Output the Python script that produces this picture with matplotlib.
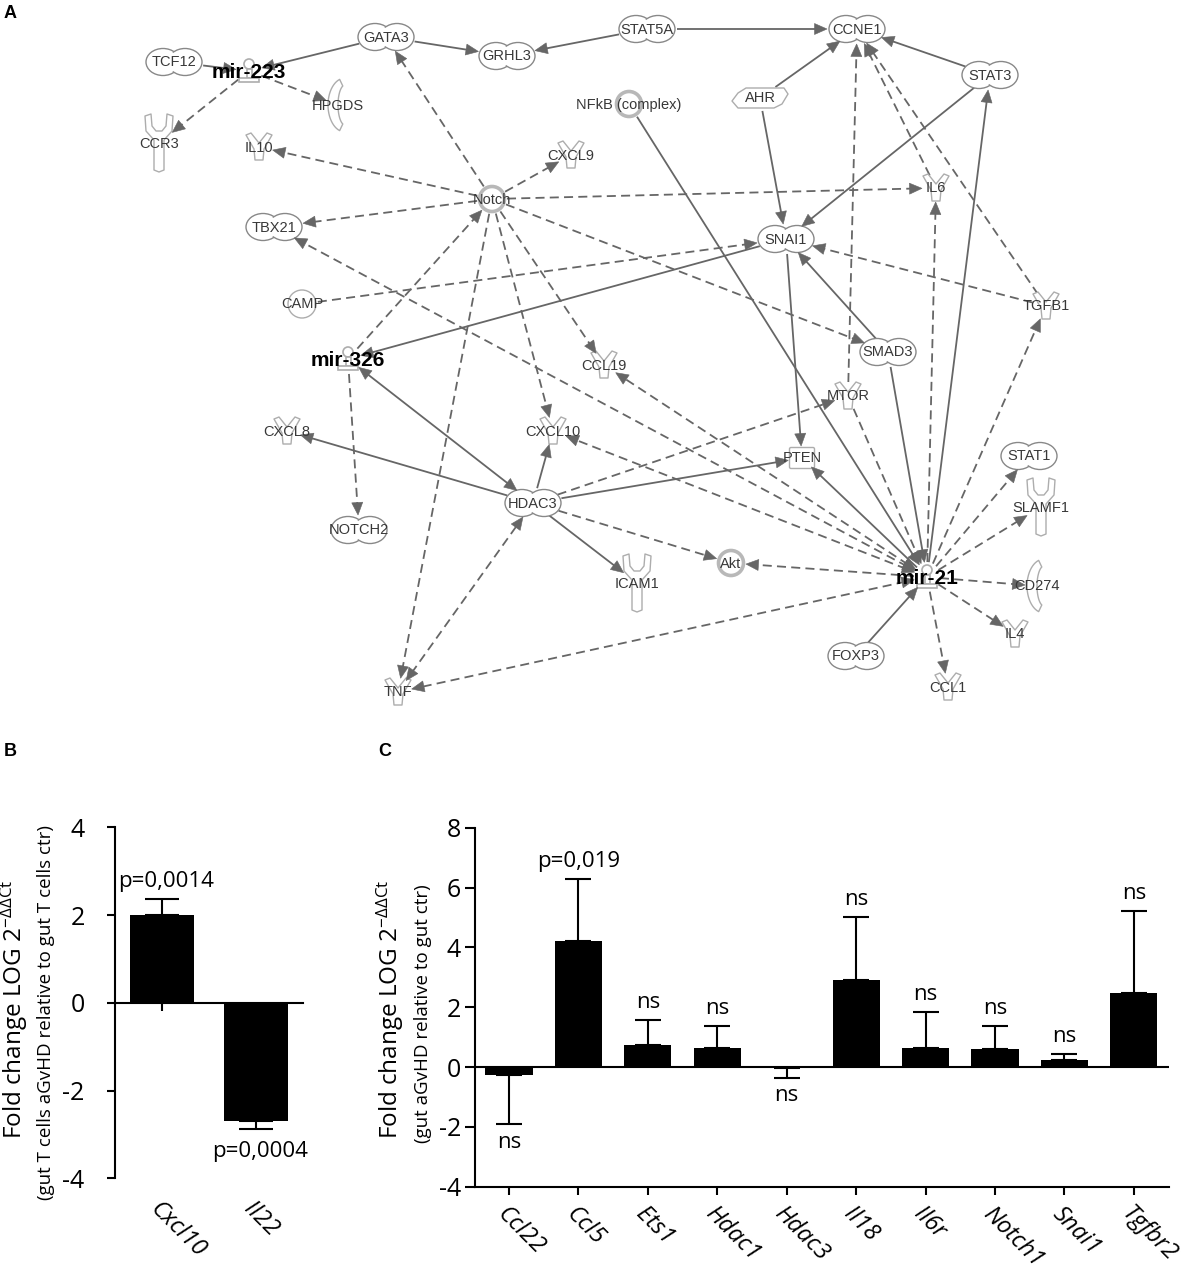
import numpy as np
import matplotlib
matplotlib.use('Agg')
import matplotlib.pyplot as plt
from matplotlib import font_manager as fm
from matplotlib.patches import Ellipse, Circle, Polygon, FancyBboxPatch, Rectangle

W, H = 1192, 1272

# ---------------- Panel B data ----------------
b_genes = ['Cxcl10', 'Il22']
b_values = [2.00, -2.70]
b_errors = [0.37, 0.17]
b_labels = ['p=0,0014', 'p=0,0004']
b_yticks = [-4, -2, 0, 2, 4]

# ---------------- Panel C data ----------------
c_genes = ['Ccl22', 'Ccl5', 'Ets1', 'Hdac1', 'Hdac3', 'Il18', 'Il6r', 'Notch1', 'Snai1', 'Tgfbr2']
c_values = [-0.28, 4.21, 0.73, 0.65, -0.03, 2.92, 0.64, 0.61, 0.22, 2.49]
c_errors = [1.64, 2.09, 0.83, 0.71, 0.33, 2.10, 1.20, 0.76, 0.23, 2.73]
c_labels = ['ns', 'p=0,019', 'ns', 'ns', 'ns', 'ns', 'ns', 'ns', 'ns', 'ns']
c_yticks = [-4, -2, 0, 2, 4, 6, 8]

# ---------------- Panel A network ----------------
node_types = {
    'TCF12': 'tr', 'mir-223': 'mir', 'GATA3': 'tr', 'GRHL3': 'tr', 'STAT5A': 'tr',
    'CCNE1': 'tr', 'STAT3': 'tr', 'AHR': 'lnr', 'NFkB': 'cplx', 'HPGDS': 'enz',
    'CCR3': 'rec', 'IL10': 'cyt', 'CXCL9': 'cyt', 'Notch': 'cplx', 'IL6': 'cyt',
    'TBX21': 'tr', 'SNAI1': 'tr', 'CAMP': 'other', 'TGFB1': 'cyt', 'mir-326': 'mir',
    'CCL19': 'cyt', 'SMAD3': 'tr', 'MTOR': 'cyt', 'CXCL8': 'cyt', 'CXCL10': 'cyt',
    'PTEN': 'phos', 'STAT1': 'tr', 'HDAC3': 'tr', 'NOTCH2': 'tr', 'SLAMF1': 'rec',
    'Akt': 'cplx', 'ICAM1': 'rec', 'mir-21': 'mir', 'CD274': 'enz', 'IL4': 'cyt',
    'FOXP3': 'tr', 'CCL1': 'cyt', 'TNF': 'cyt',
}
node_labels = {'NFkB': 'NFkB (complex)'}

edges_solid = [
    ('TCF12', 'mir-223'), ('GATA3', 'mir-223'), ('GATA3', 'GRHL3'), ('STAT5A', 'GRHL3'),
    ('STAT5A', 'CCNE1'), ('AHR', 'CCNE1'), ('STAT3', 'CCNE1'), ('AHR', 'SNAI1'),
    ('STAT3', 'SNAI1'), ('SMAD3', 'SNAI1'), ('SNAI1', 'mir-326'), ('SNAI1', 'PTEN'),
    ('NFkB', 'mir-21'), ('SMAD3', 'mir-21'), ('mir-21', 'STAT3'), ('mir-21', 'PTEN'),
    ('FOXP3', 'mir-21'), ('HDAC3', 'CXCL8'), ('mir-326', 'HDAC3'), ('HDAC3', 'CXCL10'),
    ('HDAC3', 'ICAM1'), ('HDAC3', 'PTEN'),
]
edges_dashed = [
    ('mir-223', 'HPGDS'), ('mir-223', 'CCR3'), ('Notch', 'GATA3'), ('Notch', 'IL10'),
    ('Notch', 'CXCL9'), ('Notch', 'TBX21'), ('Notch', 'IL6'), ('mir-326', 'Notch'),
    ('Notch', 'CCL19'), ('Notch', 'SMAD3'), ('Notch', 'CXCL10'), ('Notch', 'TNF'),
    ('CAMP', 'SNAI1'), ('TGFB1', 'SNAI1'), ('TGFB1', 'CCNE1'), ('IL6', 'CCNE1'),
    ('MTOR', 'CCNE1'), ('mir-21', 'IL6'), ('mir-21', 'TGFB1'), ('MTOR', 'mir-21'),
    ('mir-21', 'TBX21'), ('mir-21', 'CCL19'), ('mir-21', 'CXCL10'), ('mir-21', 'STAT1'),
    ('mir-21', 'SLAMF1'), ('mir-21', 'CD274'), ('mir-21', 'IL4'), ('mir-21', 'CCL1'),
    ('mir-21', 'Akt'), ('mir-21', 'TNF'), ('mir-326', 'NOTCH2'), ('HDAC3', 'MTOR'),
    ('HDAC3', 'Akt'), ('TNF', 'HDAC3'),
]
edges_both = [('mir-326', 'HDAC3'), ('mir-21', 'TBX21'), ('mir-21', 'CCL19'),
              ('mir-21', 'CXCL10'), ('mir-21', 'TNF'), ('TNF', 'HDAC3')]

# layout of the network diagram (pixel positions in the figure)
layout = {
    'TCF12': (174, 62), 'mir-223': (249, 71), 'GATA3': (386, 37), 'GRHL3': (507, 56),
    'STAT5A': (647, 29), 'CCNE1': (857, 29), 'STAT3': (990, 75), 'AHR': (760, 98),
    'NFkB': (629, 104), 'HPGDS': (338, 105), 'CCR3': (159, 143), 'IL10': (259, 147),
    'CXCL9': (571, 155), 'Notch': (492, 199), 'IL6': (936, 188), 'TBX21': (274, 227),
    'SNAI1': (786, 239), 'CAMP': (302, 304), 'TGFB1': (1046, 306), 'mir-326': (348, 359),
    'CCL19': (604, 365), 'SMAD3': (888, 352), 'MTOR': (848, 396), 'CXCL8': (287, 431),
    'CXCL10': (553, 431), 'PTEN': (802, 458), 'STAT1': (1029, 456), 'HDAC3': (533, 503),
    'NOTCH2': (359, 530), 'SLAMF1': (1041, 507), 'Akt': (731, 563), 'ICAM1': (637, 583),
    'mir-21': (927, 577), 'CD274': (1037, 586), 'IL4': (1015, 634), 'FOXP3': (856, 656),
    'CCL1': (948, 687), 'TNF': (398, 692),
}
clip_size = {'tr': (29, 14), 'cyt': (13, 13), 'rec': (14, 22), 'cplx': (14, 14),
             'mir': (12, 14), 'lnr': (29, 12), 'phos': (13, 11), 'other': (15, 14),
             'enz': (11, 24)}

# ---------------- fonts ----------------
ttf = fm.fontManager.ttflist
names = {f.name for f in ttf}


def pick(cands):
    for c in cands:
        if c in names:
            return c
    return 'DejaVu Sans'


def has_italic(name):
    return any(f.name == name and f.style in ('italic', 'oblique') for f in ttf)


bar_font = pick(['Open Sans', 'Noto Sans', 'Lato', 'DejaVu Sans'])
ital_font = bar_font
if not has_italic(bar_font):
    for c in ['Noto Sans', 'Lato', 'Roboto', 'DejaVu Sans']:
        if c in names and has_italic(c):
            ital_font = c
            break
narrow = 'Liberation Sans Narrow' in names
net_font = 'Liberation Sans Narrow' if narrow else pick(['Liberation Sans', 'DejaVu Sans'])
net_fs = 12 if narrow else 10.5
bold_font = pick(['Liberation Sans', 'DejaVu Sans'])

plt.rcParams['font.family'] = [bar_font, 'DejaVu Sans']
plt.rcParams['mathtext.default'] = 'regular'

fig = plt.figure(figsize=(W / 100, H / 100), dpi=100)

# ================= Panel A : network =================
axN = fig.add_axes([0, 0, 1, 1])
axN.set_xlim(0, W)
axN.set_ylim(H, 0)
axN.axis('off')

EDGE = '#666666'
OUT = '#888888'
LIGHT = '#adadad'


def ell_r(sz, u):
    rx, ry = sz
    return 1.0 / np.sqrt((u[0] / rx) ** 2 + (u[1] / ry) ** 2)


def arrow_head(tip, u, hl=12.5, hw=5.5):
    n = np.array([-u[1], u[0]])
    base = tip - u * hl
    axN.add_patch(Polygon([tip, base + n * hw, base - n * hw], closed=True,
                          fc=EDGE, ec=EDGE, lw=0.4, zorder=3.6))


def draw_edge(a, b, dashed, both):
    p0 = np.array(layout[a], float)
    p1 = np.array(layout[b], float)
    d = p1 - p0
    u = d / np.hypot(*d)
    s = p0 + u * (ell_r(clip_size[node_types[a]], u) + 1)
    e = p1 - u * (ell_r(clip_size[node_types[b]], u) + 1)
    s_line = s + u * 9 if both else s
    e_line = e - u * 9
    ls = (0, (5.0, 2.9)) if dashed else '-'
    axN.plot([s_line[0], e_line[0]], [s_line[1], e_line[1]], color=EDGE, lw=1.3,
             ls=ls, zorder=2, solid_capstyle='butt', dash_capstyle='butt')
    arrow_head(e, u)
    if both:
        arrow_head(s, -u)


both_set = set(edges_both)
for (a, b) in edges_solid:
    draw_edge(a, b, False, (a, b) in both_set)
for (a, b) in edges_dashed:
    draw_edge(a, b, True, (a, b) in both_set)


def shape_tr(x, y):
    for dx in (-11, 11):
        axN.add_patch(Ellipse((x + dx, y), 34, 27, fc='white', ec=OUT, lw=1.0, zorder=3))
    for dx in (-11, 11):
        axN.add_patch(Ellipse((x + dx, y), 31.4, 24.4, fc='white', ec='none', zorder=3.1))


def shape_poly(x, y, pts, ec=LIGHT):
    pts = np.array(pts, float) + [x, y]
    axN.add_patch(Polygon(pts, closed=True, fc='white', ec=ec, lw=1.0,
                          joinstyle='round', zorder=3))


CYT = [(-13, -12), (-8, -14), (0, -4), (8, -14), (13, -12), (5, 2), (4, 13), (-4, 13), (-5, 2)]
REC = [(-14, -27), (-8, -29), (-7, -17), (-3, -12), (3, -12), (7, -17), (8, -29), (14, -27),
       (13, -12), (5, -3), (5, 27), (0, 29), (-5, 27), (-5, -3), (-13, -12)]
LNR = [(-28, 3), (-22, -5), (-14, -10), (24, -10), (28, -4), (22, 6), (14, 10), (-22, 10)]
t = np.linspace(-1.25, 1.25, 25)
ENZ = list(zip(-17 * np.cos(t) + 7, 27 * np.sin(t))) + \
      list(zip((-7 * np.cos(t) + 7)[::-1], (20 * np.sin(t))[::-1]))


def shape_mir(x, y):
    axN.add_patch(Circle((x, y - 7), 5, fc='white', ec=LIGHT, lw=1.2, zorder=3))
    axN.add_patch(Rectangle((x - 2.5, y - 2), 5, 9, fc='white', ec=LIGHT, lw=1.2, zorder=3))
    axN.add_patch(Rectangle((x - 10, y + 7), 20, 4, fc='white', ec=LIGHT, lw=1.2, zorder=3))


for name, typ in node_types.items():
    x, y = layout[name]
    if typ == 'tr':
        shape_tr(x, y)
    elif typ == 'cyt':
        shape_poly(x, y, CYT)
    elif typ == 'rec':
        shape_poly(x, y, REC)
    elif typ == 'lnr':
        shape_poly(x, y, LNR)
    elif typ == 'enz':
        shape_poly(x, y, ENZ)
    elif typ == 'cplx':
        axN.add_patch(Circle((x, y), 12.5, fc='white', ec='#b8b8b8', lw=2.6, zorder=3))
    elif typ == 'other':
        axN.add_patch(Circle((x, y), 14, fc='white', ec=LIGHT, lw=1.0, zorder=3))
    elif typ == 'phos':
        axN.add_patch(FancyBboxPatch((x - 11, y - 9), 22, 18, boxstyle='round,pad=1.5',
                                     fc='white', ec=LIGHT, lw=1.0, zorder=3))
    elif typ == 'mir':
        shape_mir(x, y)
    if typ == 'mir':
        axN.text(x, y + 1, name, ha='center', va='center', fontsize=15, fontweight='bold',
                 family=bold_font, color='black', zorder=5)
    else:
        lab = node_labels.get(name, name)
        axN.text(x, y + 0.5, lab, ha='center', va='center', fontsize=net_fs,
                 family=net_font, color='#383838', zorder=5)

# panel letters
for letter, (px, py) in zip(['A', 'B', 'C'], [(10, 13), (10, 752), (385, 752)]):
    axN.text(px, py, letter, ha='center', va='center', fontsize=13, fontweight='bold',
             family=bold_font, color='black')

# ================= Panel B =================
axB = fig.add_axes([115 / W, 1 - 1178.3 / H, (303 - 115) / W, (1178.3 - 827.3) / H])
axB.patch.set_alpha(0)
xb = np.arange(len(b_genes))
axB.bar(xb, b_values, width=0.68, color='black', zorder=2)
b_lo = [e if v < 0 else 0 for v, e in zip(b_values, b_errors)]
b_hi = [e if v >= 0 else 0 for v, e in zip(b_values, b_errors)]
axB.errorbar(xb, b_values, yerr=[b_lo, b_hi], fmt='none', ecolor='black', elinewidth=1.5,
             capsize=12, capthick=1.5, zorder=2)
axB.set_xlim(-0.5, 1.505)
axB.set_ylim(-4, 4)
axB.set_yticks(b_yticks)
axB.set_yticklabels([str(v) for v in b_yticks])
for s in ['top', 'right']:
    axB.spines[s].set_visible(False)
axB.spines['left'].set_linewidth(1.5)
axB.spines['bottom'].set_linewidth(1.5)
axB.spines['bottom'].set_position(('data', 0))
axB.tick_params(axis='y', direction='out', length=5.8, width=1.5, labelsize=18, pad=16)
axB.tick_params(axis='x', direction='out', length=5.8, width=1.5, labelsize=17, pad=134)
axB.set_xticks(xb)
axB.set_xticklabels(b_genes, rotation=-45, ha='left', va='top', rotation_mode='anchor',
                    family=ital_font, fontstyle='italic')
for i, (v, e, lab) in enumerate(zip(b_values, b_errors, b_labels)):
    if v >= 0:
        axB.annotate(lab, (i, v + e), xytext=(3, 8.4), textcoords='offset points',
                     ha='center', va='baseline', fontsize=16)
    else:
        axB.annotate(lab, (i, v - e), xytext=(3, -8.5), textcoords='offset points',
                     ha='center', va='top', fontsize=16)

# ================= Panel C =================
axC = fig.add_axes([475 / W, 1 - 1186.7 / H, (1169.3 - 475) / W, (1186.7 - 827.7) / H])
axC.patch.set_alpha(0)
xc = np.arange(len(c_genes))
axC.bar(xc, c_values, width=0.68, color='black', zorder=2)
c_lo = [e if v < 0 else 0 for v, e in zip(c_values, c_errors)]
c_hi = [e if v >= 0 else 0 for v, e in zip(c_values, c_errors)]
axC.errorbar(xc, c_values, yerr=[c_lo, c_hi], fmt='none', ecolor='black', elinewidth=1.5,
             capsize=9.4, capthick=1.5, zorder=2)
axC.axhline(0, color='black', lw=1.5, zorder=1)
axC.set_xlim(-0.49, 9.51)
axC.set_ylim(-4, 8)
axC.set_yticks(c_yticks)
axC.set_yticklabels([str(v) for v in c_yticks])
for s in ['top', 'right']:
    axC.spines[s].set_visible(False)
axC.spines['left'].set_linewidth(1.5)
axC.spines['bottom'].set_linewidth(1.5)
axC.tick_params(axis='y', direction='out', length=7, width=1.5, labelsize=18, pad=3)
axC.tick_params(axis='x', direction='out', length=5.8, width=1.5, labelsize=17, pad=5.5)
axC.set_xticks(xc)
axC.set_xticklabels(c_genes, rotation=-45, ha='left', va='top', rotation_mode='anchor',
                    family=ital_font, fontstyle='italic')
for i, (v, e, lab) in enumerate(zip(c_values, c_errors, c_labels)):
    if v >= 0:
        axC.annotate(lab, (i, v + e), xytext=(0, 8.6), textcoords='offset points',
                     ha='center', va='baseline', fontsize=16)
    else:
        axC.annotate(lab, (i, v - e), xytext=(0, -5.5), textcoords='offset points',
                     ha='center', va='top', fontsize=16)

# y labels (two lines, different sizes)
ylab1 = 'Fold change LOG 2$^{-ΔΔCt}$'
axN.text(14, 1009, ylab1, rotation=90, ha='center', va='center', fontsize=17.5)
axN.text(46, 1012, '(gut T cells aGvHD relative to gut T cells ctr)', rotation=90,
         ha='center', va='center', fontsize=13.5)
axN.text(390, 1009, ylab1, rotation=90, ha='center', va='center', fontsize=17.5)
axN.text(423, 1014, '(gut aGvHD relative to gut ctr)', rotation=90,
         ha='center', va='center', fontsize=13.5)

fig.savefig('out.png', dpi=100)
